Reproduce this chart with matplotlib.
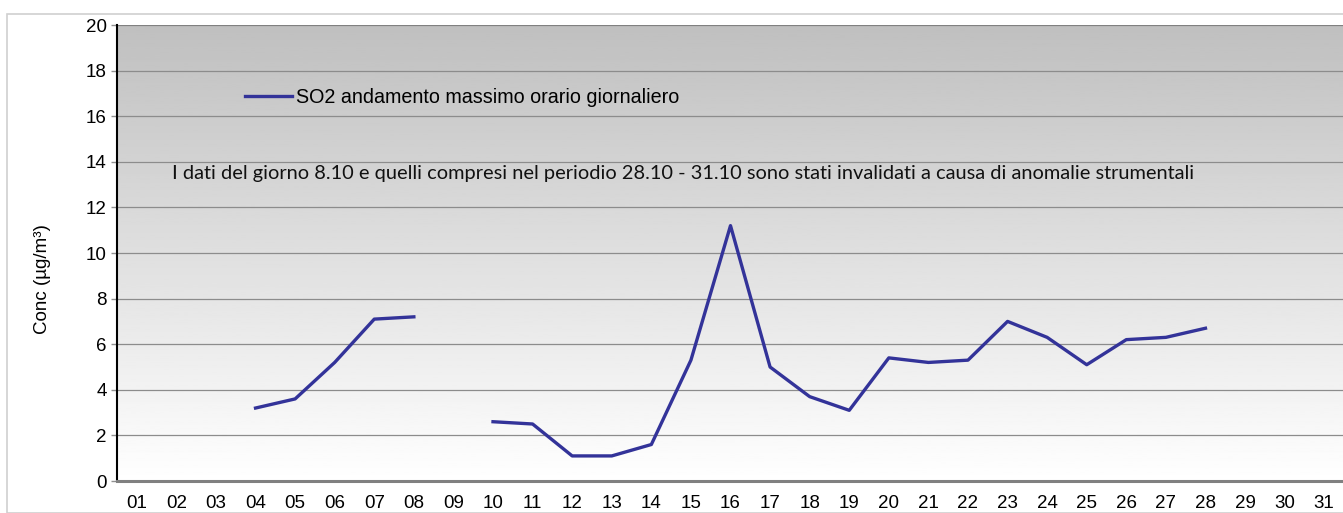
import numpy as np
import matplotlib.pyplot as plt
from matplotlib.patches import Rectangle

### Data
days = [f'{d:02d}' for d in range(1, 32)]
so2_max = [np.nan, np.nan, np.nan, 3.2, 3.6, 5.2, 7.1, 7.2, np.nan,
           2.6, 2.5, 1.1, 1.1, 1.6, 5.3, 11.2, 5.0, 3.7, 3.1, 5.4, 5.2,
           5.3, 7.0, 6.3, 5.1, 6.2, 6.3, 6.7, np.nan, np.nan, np.nan]
series_label = 'SO2 andamento massimo orario giornaliero'
note = ('I dati del giorno 8.10 e quelli compresi nel periodio 28.10 - 31.10 '
        'sono stati invalidati a causa di anomalie strumentali')
y_ticks = list(range(0, 21, 2))

plt.rcParams['font.family'] = ['Liberation Sans', 'DejaVu Sans']

fig = plt.figure(figsize=(13.43, 5.13), dpi=100)
ax = fig.add_axes([117 / 1343, 1 - 481 / 513, 1227 / 1343, 456 / 513])

# outer chart frame
fig.patches.append(Rectangle((7 / 1343, 0), 2, 1 - 14 / 513, transform=fig.transFigure,
                             fill=False, edgecolor='#d0d0d0', linewidth=1.2))

x = np.arange(1, len(days) + 1)
ax.set_xlim(0.5, 31.5)
ax.set_ylim(0, 20)

# vertical gradient background, gray on top -> white at bottom
grad = np.linspace(1.0, 0.75, 256).reshape(-1, 1)
ax.imshow(grad, extent=[0.5, 31.5, 0, 20], aspect='auto', cmap='gray',
          vmin=0, vmax=1, origin='lower', zorder=0)

for yv in y_ticks[1:-1]:
    ax.axhline(yv, color='#8c8c8c', linewidth=0.9, zorder=1)
ax.axhline(20, color='#808080', linewidth=1.6, zorder=1)

line, = ax.plot(x, so2_max, color='#333399', linewidth=2.4, zorder=3,
                label=series_label)

ax.set_xticks(x)
ax.set_xticklabels(days, fontsize=13.5)
ax.set_yticks(y_ticks)
ax.set_yticklabels([str(v) for v in y_ticks], fontsize=13.5)
ax.tick_params(axis='x', length=0, pad=10)
ax.tick_params(axis='y', length=4.5, color='#909090', width=1, pad=3)

for s in ['top', 'right']:
    ax.spines[s].set_visible(False)
ax.spines['left'].set_color('black')
ax.spines['left'].set_linewidth(1.5)
ax.spines['bottom'].set_color('#808080')
ax.spines['bottom'].set_linewidth(2.2)

ax.legend(handles=[line], loc='center left', bbox_to_anchor=(0.1043, 0.842),
          frameon=False, fontsize=14.2, handlelength=2.4, handletextpad=0.2,
          borderpad=0, borderaxespad=0)

ax.text(1.88, 13.5, note, fontsize=14.4, family=['Lato', 'DejaVu Sans'],
        ha='left', va='center', color='#111111', zorder=4)

fig.text(42.5 / 1343, 1 - 279 / 513, 'Conc (µg/m³)', rotation=90,
         ha='center', va='center', fontsize=13.5)

fig.savefig('out.png', dpi=100)
